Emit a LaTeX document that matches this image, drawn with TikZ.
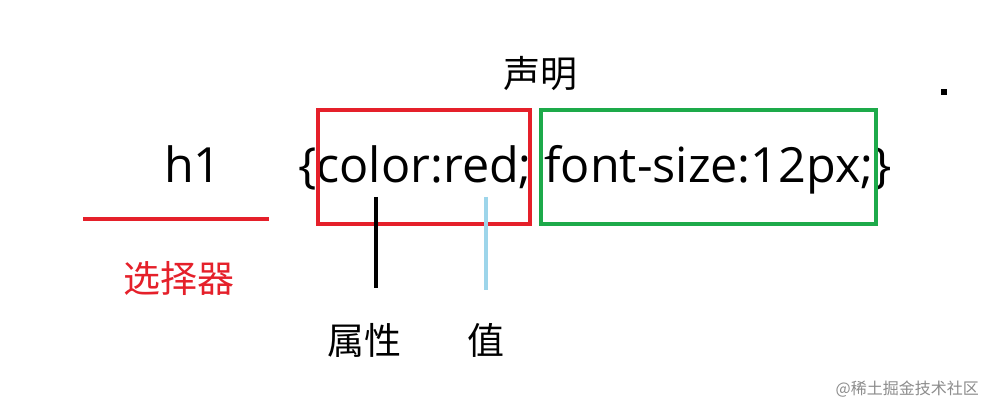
\documentclass[tikz,border=0pt]{standalone}
\usepackage{fontspec}
\setmainfont{Open Sans}
\newfontfamily\cjk{Noto Sans CJK SC}
\definecolor{boxred}{HTML}{E5202A}
\definecolor{boxgreen}{HTML}{1DAA4A}
\definecolor{valblue}{HTML}{9DD5EA}
\begin{document}
\begin{tikzpicture}[x=1pt,y=-1pt,
  code/.style={inner sep=0pt,font=\fontsize{48.5}{54}\selectfont,anchor=base west},
  lbl/.style={inner sep=0pt,font=\cjk\fontsize{37}{40}\selectfont},
  frame/.style={line width=4pt},
  tick/.style={line width=4pt}]
\useasboundingbox[fill=white] (0,0) rectangle (986,406);
% texts
\node[code] (h1) at (164,183) {h1};
\node[code] (decl) at (298,183) {\{color:red; font-size:12px;\}};
\node[lbl] (sm) at (540,74) {声明};
\node[lbl,text=boxred] (sel) at (179,278) {选择器};
\node[lbl] (attr) at (364,340) {属性};
\node[lbl] (val) at (486,340) {值};
\node[inner sep=0pt,font=\cjk\fontsize{16}{18}\selectfont,text=black!45,anchor=east] (wm) at (979,389) {@稀土掘金技术社区};
% boxes
\draw[frame,boxred] (318,110) rectangle (530,224);
\draw[frame,boxgreen] (541,110) rectangle (876,224);
% selector underline
\coordinate (ula) at (83,219);
\coordinate (ulb) at (269,219);
\draw[tick,boxred] (ula) -- (ulb);
% attribute / value ticks
\coordinate (pa) at (376,197);
\coordinate (pb) at (376,288);
\draw[tick,black] (pa) -- (pb);
\coordinate (va) at (486,197);
\coordinate (vb) at (486,290);
\draw[tick,valblue] (va) -- (vb);
% dot
\node[fill=black,minimum size=6pt,inner sep=0pt] (dot) at (944,92) {};
\end{tikzpicture}
\end{document}
